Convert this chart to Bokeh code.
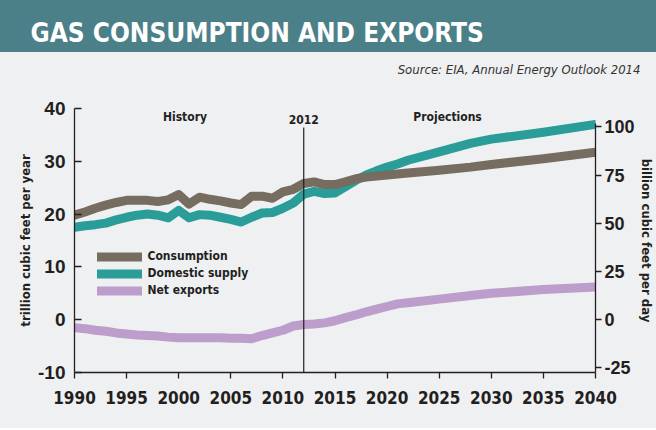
from bokeh.plotting import figure
from bokeh.layouts import column
from bokeh.models import Range1d, LinearAxis, FixedTicker, Label, Legend, LegendItem, Title
from bokeh.embed import file_html
from bokeh.resources import INLINE

# ---------------- data (trillion cubic feet per year) ----------------
years = [1990, 1991, 1992, 1993, 1994, 1995, 1996, 1997, 1998, 1999,
         2000, 2001, 2002, 2003, 2004, 2005, 2006, 2007, 2008, 2009,
         2010, 2011, 2012, 2013, 2014, 2015, 2016, 2017, 2018, 2019,
         2020, 2021, 2022, 2025, 2028, 2030, 2035, 2040]
consumption = [19.8, 20.4, 21.1, 21.7, 22.2, 22.6, 22.6, 22.6, 22.4, 22.7,
               23.7, 21.9, 23.2, 22.8, 22.5, 22.1, 21.8, 23.4, 23.4, 23.0,
               24.2, 24.7, 25.8, 26.1, 25.6, 25.6, 26.1, 26.7, 27.0, 27.2,
               27.4, 27.6, 27.8, 28.3, 28.9, 29.4, 30.5, 31.7]
domestic_supply = [17.5, 17.8, 18.0, 18.3, 18.9, 19.4, 19.8, 20.0, 19.8, 19.3,
                   20.7, 19.3, 19.9, 19.8, 19.4, 19.0, 18.5, 19.4, 20.2, 20.3,
                   21.1, 22.1, 23.8, 24.3, 23.9, 24.0, 25.2, 26.4, 27.4, 28.2,
                   28.9, 29.5, 30.2, 31.8, 33.4, 34.2, 35.5, 37.0]
net_exports = [-1.5, -1.7, -2.0, -2.2, -2.5, -2.7, -2.9, -3.0, -3.1, -3.3,
               -3.4, -3.4, -3.4, -3.4, -3.4, -3.5, -3.5, -3.6, -3.0, -2.5,
               -2.0, -1.2, -0.9, -0.8, -0.6, -0.2, 0.4, 0.9, 1.5, 2.0,
               2.5, 3.0, 3.2, 3.9, 4.6, 5.0, 5.7, 6.2]

x_ticks = [1990, 1995, 2000, 2005, 2010, 2015, 2020, 2025, 2030, 2035, 2040]
left_ticks = [-10, 0, 10, 20, 30, 40]
right_ticks = [-25, 0, 25, 50, 75, 100]
TCF_YEAR_TO_BCF_DAY = 1000 / 365
divider_year = 2012

title_text = "GAS CONSUMPTION AND EXPORTS"
source_text = "Source: EIA, Annual Energy Outlook 2014"

# ---------------- styles ----------------
BG = "#eff0f2"
BANNER = "#4b8089"
INK = "#231f20"
C_CONS = "#766c5f"
C_DOM = "#2a9d99"
C_EXP = "#bc9dcb"
NARROW = "DejaVu Sans Condensed"
WIDE = "Liberation Sans"

W = 656
FRAME_L, FRAME_R = 74, 60


def strip(height, color, title, top):
    f = figure(width=W, height=height, output_backend="svg", toolbar_location=None,
               tools="", title=title, x_range=Range1d(0, 1), y_range=Range1d(0, 1),
               x_axis_type=None, y_axis_type=None,
               min_border_left=FRAME_L, min_border_right=FRAME_R,
               min_border_top=top, min_border_bottom=0,
               background_fill_color=color, border_fill_color=color,
               outline_line_color=None,
               styles={"background-color": color})
    f.grid.visible = False
    return f


banner = strip(52, BANNER,
               Title(text=title_text, align="left", offset=-44, standoff=0,
                     vertical_align="bottom", text_font=NARROW,
                     text_font_style="bold", text_font_size="26px",
                     text_color="white"),
               top=47)
source = strip(40, BG,
               Title(text=source_text, align="right", offset=-45, standoff=0,
                     vertical_align="bottom", text_font=NARROW,
                     text_font_style="italic", text_font_size="13px",
                     text_color="#333333"),
               top=24)

# ---------------- main chart ----------------
p = figure(width=W, height=336, output_backend="svg", toolbar_location=None,
           title=None,
           x_range=Range1d(1990, 2040), y_range=Range1d(-10, 40),
           min_border_left=FRAME_L, min_border_right=FRAME_R,
           min_border_top=16, min_border_bottom=56,
           background_fill_color=BG, border_fill_color=BG,
           outline_line_color=None, styles={"background-color": BG})
p.grid.visible = False


def style_axis(ax, font, size):
    ax.minor_tick_line_color = None
    ax.axis_line_color = INK
    ax.axis_line_width = 1.3
    ax.major_tick_line_color = INK
    ax.major_tick_line_width = 1.3
    ax.major_label_text_font = font
    ax.major_label_text_font_style = "bold"
    ax.major_label_text_font_size = size
    ax.major_label_text_color = INK
    ax.axis_label_text_font = NARROW
    ax.axis_label_text_font_style = "bold"
    ax.axis_label_text_font_size = "13px"
    ax.axis_label_text_color = INK


# bottom axis
xa = p.xaxis[0]
xa.ticker = FixedTicker(ticks=x_ticks)
style_axis(xa, NARROW, "17px")
xa.major_tick_in = 0
xa.major_tick_out = 6
xa.major_label_standoff = 12

# left axis
ya = p.yaxis[0]
ya.ticker = FixedTicker(ticks=left_ticks)
ya.major_label_overrides = {t: str(t) for t in left_ticks}
style_axis(ya, WIDE, "19px")
ya.major_tick_in = 7
ya.major_tick_out = 0
ya.major_label_standoff = 9
ya.axis_label = "trillion cubic feet per year"
ya.axis_label_standoff = 2

# right axis (billion cubic feet per day)
p.extra_y_ranges = {"bcfd": Range1d(-10 * TCF_YEAR_TO_BCF_DAY, 40 * TCF_YEAR_TO_BCF_DAY)}
ra = LinearAxis(y_range_name="bcfd", ticker=FixedTicker(ticks=right_ticks),
                bounds=(-10 * TCF_YEAR_TO_BCF_DAY, 102))
ra.major_label_overrides = {t: str(t) for t in right_ticks}
style_axis(ra, WIDE, "18px")
ra.major_tick_in = 0
ra.major_tick_out = 6
ra.major_label_standoff = 3
ra.axis_label = "billion cubic feet per day"
ra.axis_label_standoff = 1
p.add_layout(ra, "right")

# lines
r_dom = p.line(years, domestic_supply, line_color=C_DOM, line_width=9,
               line_cap="round", line_join="round")
r_cons = p.line(years, consumption, line_color=C_CONS, line_width=9,
                line_cap="round", line_join="round")
r_exp = p.line(years, net_exports, line_color=C_EXP, line_width=9,
               line_cap="round", line_join="round")

# 2012 divider
p.segment(x0=[divider_year], y0=[-10], x1=[divider_year], y1=[36.4],
          line_color=INK, line_width=1.2)

for txt, xx, yy in [("History", 2000.6, 38.4), ("2012", divider_year, 38.0),
                    ("Projections", 2025.8, 38.4)]:
    p.add_layout(Label(x=xx, y=yy, text=txt, text_font=NARROW,
                       text_font_style="bold", text_font_size="12px",
                       text_color=INK, text_align="center",
                       text_baseline="middle"))

legend = Legend(items=[LegendItem(label="Consumption", renderers=[r_cons]),
                       LegendItem(label="Domestic supply", renderers=[r_dom]),
                       LegendItem(label="Net exports", renderers=[r_exp])],
                location=(22.5, 73.5), glyph_width=45, glyph_height=17,
                label_height=17, spacing=0, padding=0, margin=0,
                label_standoff=6, border_line_color=None,
                background_fill_alpha=0,
                label_text_font=NARROW, label_text_font_style="bold",
                label_text_font_size="12px", label_text_color=INK)
p.add_layout(legend, "center")

layout = column(banner, source, p, spacing=0)
open("out.html", "w").write(file_html(layout, INLINE))
